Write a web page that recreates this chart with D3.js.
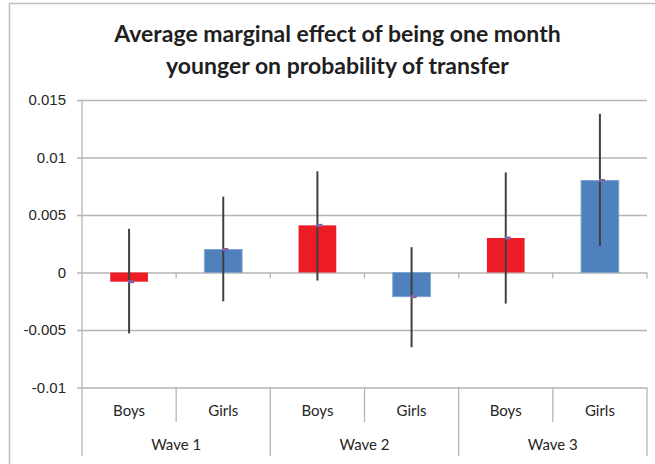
<!DOCTYPE html>
<html>
<head>
<meta charset="utf-8">
<script src="https://cdn.jsdelivr.net/npm/d3@7"></script>
<style>
  body { margin: 0; background: #fff; }
  svg { display: block; font-family: Lato, "Open Sans", sans-serif; }
  .yAxis path { display: none; }
  .yAxis line { stroke: #b5b5b5; stroke-width: 1.3; }
  .yAxis text { fill: #262626; font-size: 15px; }
</style>
</head>
<body>
<div id="chart1"></div>
<script>
// chart values
var waves = ["Wave 1", "Wave 2", "Wave 3"]
var genders = ["Boys", "Girls"]
var effects = [-0.0008, 0.002, 0.0041, -0.0021, 0.003, 0.008]
var errLow = [-0.0053, -0.0025, -0.0007, -0.0065, -0.0027, 0.0023]
var errHigh = [0.0038, 0.0066, 0.0088, 0.0022, 0.0087, 0.0138]
var yTicks = [0.015, 0.01, 0.005, 0, -0.005, -0.01]
var yTickLabels = ["0.015", "0.01", "0.005", "0", "-0.005", "-0.01"]
var titleLines = ["Average marginal effect of being one month", "younger on probability of transfer"]

var colors = {"Boys": "#ED1C24", "Girls": "#4F81BD"}

var rows = []
waves.forEach(function(w, i){
    genders.forEach(function(g, j){
        var k = i * genders.length + j
        rows.push({wave: w, gender: g, key: w + "|" + g, value: effects[k], lo: errLow[k], hi: errHigh[k]})
    })
})

var width = 655, height = 464
var plotLeft = 82, plotRight = 647, plotTop = 100, plotBottom = 387.5

var svg = d3.select("#chart1").append("svg")
    .attr("width", width)
    .attr("height", height)

svg.append("rect")
    .attr("x", 0).attr("y", 0)
    .attr("width", width).attr("height", height)
    .attr("fill", "#fff")

// outer chart frame (runs off the right and bottom edges)
svg.append("rect")
    .attr("x", 9.5).attr("y", 3.5)
    .attr("width", 700).attr("height", 500)
    .attr("fill", "none")
    .attr("stroke", "#bdbdbd")
    .attr("stroke-width", 1.5)

var y = d3.scaleLinear().domain([-0.01, 0.015]).range([plotBottom, plotTop])
var x = d3.scaleBand()
    .domain(rows.map(function(d){ return d.key }))
    .range([plotLeft, plotRight])
    .paddingInner(0.6)
    .paddingOuter(0.3)
var step = x.step()

// title
svg.append("g").selectAll("text")
    .data(titleLines)
    .enter().append("text")
    .attr("x", 337.5)
    .attr("y", function(d, i){ return 42 + i * 32 })
    .attr("text-anchor", "middle")
    .attr("font-weight", "bold")
    .attr("font-size", "23px")
    .attr("fill", "#1f1f1f")
    .text(function(d){ return d })

// y axis + gridlines
var yAxis = d3.axisLeft(y)
    .tickValues(yTicks)
    .tickSize(plotRight - plotLeft + 5)
    .tickPadding(12)
    .tickFormat(function(d, i){ return yTickLabels[i] })

svg.append("g")
    .attr("class", "yAxis")
    .attr("transform", "translate(" + plotRight + ",0)")
    .call(yAxis)
    .selectAll("text")
    .attr("x", -(plotRight - plotLeft) - 16)

// left axis line, running down through the category labels
svg.append("line")
    .attr("x1", plotLeft).attr("x2", plotLeft)
    .attr("y1", plotTop).attr("y2", 456)
    .attr("stroke", "#b5b5b5").attr("stroke-width", 1.3)

// small ticks under the zero line
var bounds = d3.range(rows.length + 1).map(function(i){ return plotLeft + i * step })
svg.append("g").selectAll("line")
    .data(bounds.slice(1))
    .enter().append("line")
    .attr("x1", function(d){ return d }).attr("x2", function(d){ return d })
    .attr("y1", y(0)).attr("y2", y(0) + 6)
    .attr("stroke", "#b5b5b5").attr("stroke-width", 1.3)

// category divider lines below the plot
svg.append("g").selectAll("line")
    .data(bounds.slice(1))
    .enter().append("line")
    .attr("x1", function(d){ return d }).attr("x2", function(d){ return d })
    .attr("y1", plotBottom)
    .attr("y2", function(d, i){ return (i + 1) % genders.length == 0 ? 456 : 422 })
    .attr("stroke", "#b5b5b5").attr("stroke-width", 1.3)

// bars
svg.append("g").selectAll("rect")
    .data(rows)
    .enter().append("rect")
    .attr("x", function(d){ return x(d.key) })
    .attr("width", x.bandwidth())
    .attr("y", function(d){ return y(Math.max(0, d.value)) })
    .attr("height", function(d){ return Math.abs(y(d.value) - y(0)) })
    .attr("fill", function(d){ return colors[d.gender] })
    .attr("stroke", function(d){ return d.gender == "Girls" ? "#7FA3CF" : "none" })
    .attr("stroke-width", 1)

// error bars
svg.append("g").selectAll("line")
    .data(rows)
    .enter().append("line")
    .attr("x1", function(d){ return x(d.key) + x.bandwidth() / 2 })
    .attr("x2", function(d){ return x(d.key) + x.bandwidth() / 2 })
    .attr("y1", function(d){ return y(d.hi) })
    .attr("y2", function(d){ return y(d.lo) })
    .attr("stroke", "#404040")
    .attr("stroke-width", 2)

// value markers
svg.append("g").selectAll("rect")
    .data(rows)
    .enter().append("rect")
    .attr("x", function(d){ return x(d.key) + x.bandwidth() / 2 - 1 })
    .attr("y", function(d){ return y(d.value) - 1.5 })
    .attr("width", 6).attr("height", 3)
    .attr("fill", "#8064A2")

// category labels
svg.append("g").selectAll("text")
    .data(rows)
    .enter().append("text")
    .attr("x", function(d){ return x(d.key) + x.bandwidth() / 2 })
    .attr("y", 416)
    .attr("text-anchor", "middle")
    .attr("font-size", "15px")
    .attr("fill", "#262626")
    .text(function(d){ return d.gender })

svg.append("g").selectAll("text")
    .data(waves)
    .enter().append("text")
    .attr("x", function(d, i){ return plotLeft + (i + 0.5) * step * genders.length })
    .attr("y", 450)
    .attr("text-anchor", "middle")
    .attr("font-size", "15px")
    .attr("fill", "#262626")
    .text(function(d){ return d })
</script>
</body>
</html>
